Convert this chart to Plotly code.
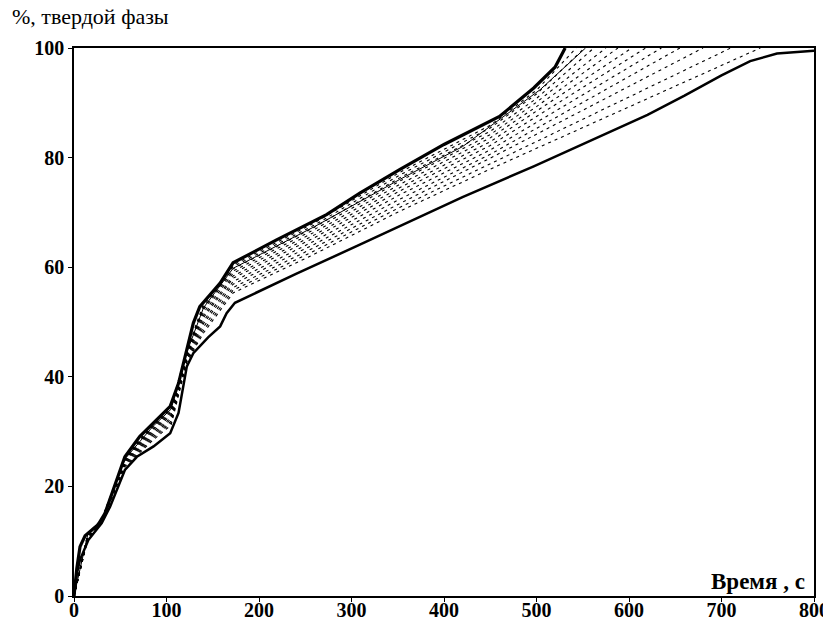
import plotly.graph_objects as go

# Upper (thick) boundary curve
upper_x = [0, 3, 6.5, 12, 19, 26, 33.5, 42.5, 55, 71, 89, 104, 113, 122, 129, 136, 145, 158, 172, 219, 273, 309, 352, 400, 460, 497, 520, 531]
upper_y = [0, 5, 9, 11, 12, 13, 15.1, 19.4, 25.4, 29.1, 32.1, 34.6, 38.8, 44.9, 49.8, 52.8, 54.5, 57.1, 60.8, 65, 69.6, 73.5, 77.8, 82.4, 87.5, 92.7, 96.5, 100]

# Lower (thick) boundary curve
lower_x = [0, 3, 6.5, 15.5, 30, 39, 55, 68, 86, 104, 113, 122, 129, 145, 158, 165, 174, 240, 309, 352, 420, 497, 569, 620, 660, 700, 731, 760, 800]
lower_y = [0, 4, 6.6, 10.2, 13.3, 16.3, 23, 25.4, 27.3, 29.7, 33.4, 41.9, 44.3, 47.2, 49.2, 51.6, 53.5, 58.8, 64.1, 67.5, 72.8, 78.4, 83.9, 87.8, 91.3, 95.0, 97.6, 99.0, 99.5]

# Intermediate dashed curves
d1_x = [0, 15, 30, 55, 85, 105, 122, 140, 172, 260, 352, 450, 500, 543]
d1_y = [0, 11.4, 14.0, 25.3, 31.3, 34.6, 44.8, 53.3, 60.4, 68.1, 77.3, 85.9, 92.3, 100]
d2_x = [0, 15, 30, 55, 85, 105, 122, 140, 172, 260, 352, 450, 500, 552]
d2_y = [0, 11.4, 13.9, 25.2, 31.1, 34.3, 44.6, 52.9, 60.1, 67.7, 76.8, 85.4, 91.6, 100]
d3_x = [0, 15, 30, 55, 85, 105, 122, 140, 172, 260, 352, 450, 500, 562]
d3_y = [0, 11.3, 13.9, 25.0, 30.9, 34.1, 44.5, 52.5, 59.7, 67.3, 76.3, 84.8, 90.8, 100]
d4_x = [0, 15, 30, 55, 85, 105, 122, 140, 172, 260, 352, 450, 500, 575]
d4_y = [0, 11.2, 13.9, 24.9, 30.7, 33.8, 44.3, 52.2, 59.3, 66.9, 75.7, 84.2, 90.1, 100]
d5_x = [0, 15, 30, 55, 85, 105, 122, 140, 172, 260, 352, 450, 500, 588]
d5_y = [0, 11.1, 13.8, 24.8, 30.4, 33.6, 44.1, 51.7, 58.9, 66.4, 75.1, 83.6, 89.3, 100]
d6_x = [0, 15, 30, 55, 85, 105, 122, 140, 172, 260, 352, 450, 603]
d6_y = [0, 11.0, 13.8, 24.6, 30.2, 33.3, 43.9, 51.2, 58.4, 65.9, 74.5, 82.9, 100]
d7_x = [0, 15, 30, 55, 85, 105, 122, 140, 172, 260, 352, 450, 618]
d7_y = [0, 10.9, 13.7, 24.5, 29.9, 33.0, 43.8, 50.8, 58.0, 65.4, 73.9, 82.2, 100]
d8_x = [0, 15, 30, 55, 85, 105, 122, 140, 172, 260, 352, 450, 635]
d8_y = [0, 10.8, 13.7, 24.3, 29.6, 32.6, 43.6, 50.2, 57.4, 64.8, 73.2, 81.4, 100]
d9_x = [0, 15, 30, 55, 85, 105, 122, 140, 172, 260, 352, 450, 655]
d9_y = [0, 10.7, 13.6, 24.2, 29.3, 32.3, 43.3, 49.7, 56.9, 64.2, 72.4, 80.6, 100]
d10_x = [0, 15, 30, 55, 85, 105, 122, 140, 172, 260, 352, 450, 680]
d10_y = [0, 10.6, 13.6, 24.0, 29.0, 31.9, 43.1, 49.1, 56.3, 63.6, 71.6, 79.9, 100]
d11_x = [0, 15, 30, 55, 85, 105, 122, 140, 172, 260, 352, 450, 710]
d11_y = [0, 10.5, 13.5, 23.8, 28.7, 31.6, 42.9, 48.5, 55.8, 63.0, 70.9, 78.9, 100]
d12_x = [0, 15, 30, 55, 85, 105, 122, 140, 172, 260, 352, 450, 742]
d12_y = [0, 10.4, 13.5, 23.6, 28.4, 31.2, 42.7, 48.0, 55.3, 62.4, 70.2, 77.9, 100]

# Thin solid intermediate curve
thin_x = [0, 15, 30, 55, 85, 105, 122, 140, 172, 260, 352, 420, 504, 553]
thin_y = [0, 11.3, 13.9, 25.0, 30.9, 34.1, 44.5, 52.6, 59.8, 67.4, 76.0, 82.0, 92.4, 100]

x_ticks = [0, 100, 200, 300, 400, 500, 600, 700, 800]
y_ticks = [0, 20, 40, 60, 80, 100]

fig = go.Figure()

dashed = [(d1_x, d1_y), (d2_x, d2_y), (d3_x, d3_y), (d4_x, d4_y), (d5_x, d5_y), (d6_x, d6_y),
          (d7_x, d7_y), (d8_x, d8_y), (d9_x, d9_y), (d10_x, d10_y), (d11_x, d11_y), (d12_x, d12_y)]
for xs, ys in dashed:
    fig.add_trace(go.Scatter(x=xs, y=ys, mode="lines",
                             line=dict(color="black", width=1.1, dash="3px,4px"),
                             showlegend=False, hoverinfo="skip"))

fig.add_trace(go.Scatter(x=thin_x, y=thin_y, mode="lines",
                         line=dict(color="black", width=1), showlegend=False))
fig.add_trace(go.Scatter(x=lower_x, y=lower_y, mode="lines",
                         line=dict(color="black", width=2.5), showlegend=False))
fig.add_trace(go.Scatter(x=upper_x, y=upper_y, mode="lines",
                         line=dict(color="black", width=3.2), showlegend=False))

tick_font = dict(family="Liberation Serif", size=20, color="black")

fig.update_layout(
    width=823, height=609,
    margin=dict(l=66, r=17, t=40, b=21),
    paper_bgcolor="white", plot_bgcolor="white",
    xaxis=dict(range=[0, 800], tickvals=x_ticks, ticktext=[f"<b>{v}</b>" for v in x_ticks],
               showgrid=False, zeroline=False, showline=True, linecolor="black", linewidth=1.5,
               mirror=True, ticks="outside", ticklen=4, tickcolor="black", tickfont=tick_font,
               ticklabelstandoff=-9, ticklabeloverflow="allow", automargin=False),
    yaxis=dict(range=[0, 100], tickvals=y_ticks, ticktext=[f"<b>{v}</b>" for v in y_ticks],
               showgrid=False, zeroline=False, showline=True, linecolor="black", linewidth=1.5,
               mirror=True, ticks="outside", ticklen=4, tickcolor="black", tickfont=tick_font,
               ticklabeloverflow="allow", automargin=False),
    annotations=[
        dict(text="%, твердой фазы", xref="paper", yref="paper", x=-0.086, y=1.0,
             xanchor="left", yanchor="bottom", yshift=17, showarrow=False,
             font=dict(family="Liberation Serif", size=22, color="black")),
        dict(text="<b>Время , с</b>", xref="paper", yref="paper", x=0.9905, y=0,
             xanchor="right", yanchor="bottom", yshift=0, showarrow=False,
             font=dict(family="Liberation Serif", size=23, color="black")),
    ],
)

fig.write_html("out.html")
